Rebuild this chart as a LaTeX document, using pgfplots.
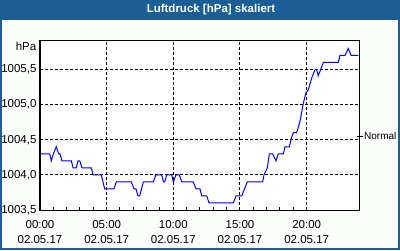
\documentclass[border=0pt]{standalone}
\usepackage{fontspec}
\setmainfont{Liberation Sans}
\usepackage{pgfplots}
\pgfplotsset{compat=1.18}
\definecolor{titleblue}{RGB}{27,94,150}
\definecolor{bgc}{RGB}{250,253,250}
\definecolor{lineblue}{RGB}{0,0,255}
\begin{document}
\begin{tikzpicture}
\useasboundingbox (0pt,0pt) rectangle (400pt,250pt);
\fill[bgc] (0pt,0pt) rectangle (400pt,250pt);
\fill[titleblue] (0pt,230pt) rectangle (400pt,250pt);
\draw[titleblue, line width=2pt] (1pt,1pt) rectangle (399pt,249pt);
\node[white, font=\fontsize{11.5}{13}\selectfont\bfseries] at (211pt,240pt) {Luftdruck [hPa] skaliert};
\node[anchor=east, inner sep=0pt, font=\fontsize{11.5}{13}\selectfont] at (36.5pt,203.3pt) {hPa};
\begin{axis}[at={(40pt,40pt)}, anchor=south west, scale only axis,
  width=320pt, height=170pt,
  xmin=0, xmax=24, ymin=1003.5, ymax=1005.92,
  axis background/.style={fill=white},
  xtick={0,5,10,15,20},
  xticklabels={00:00\\02.05.17, 05:00\\02.05.17, 10:00\\02.05.17, 15:00\\02.05.17, 20:00\\02.05.17},
  minor x tick num=4,
  ytick={1003.5,1004,1004.5,1005,1005.5},
  grid=major,
  major grid style={black, dash pattern=on 3pt off 2pt, line width=1pt},
  axis line style={black, line width=1pt},
  tick style={black, line width=1pt},
  major tick length=0pt, minor tick length=3pt, tick align=inside,
  xtick pos=bottom, ytick pos=left,
  /pgf/number format/assume math mode=true,
  ticklabel style={font=\fontsize{11.5}{15}\selectfont},
  x tick label style={align=center, yshift=-7pt},
  y tick label style={/pgf/number format/.cd, fixed, fixed zerofill, precision=1, use comma, 1000 sep={}},
  clip=false,
]
\addplot[lineblue, line width=1pt, mark=none] coordinates {
(0.0,1004.3) (0.73,1004.3) (0.85,1004.2) (1.0,1004.3) (1.22,1004.4) (1.4,1004.3) (1.5,1004.3)
(1.65,1004.2) (2.35,1004.2) (2.48,1004.1) (2.72,1004.1) (2.85,1004.2) (2.98,1004.2) (3.15,1004.1)
(3.85,1004.1) (3.98,1004.0) (4.6,1004.0) (4.85,1003.8) (5.55,1003.8) (5.72,1003.9) (6.85,1003.9)
(7.05,1003.8) (7.2,1003.8) (7.35,1003.7) (7.48,1003.7) (7.75,1003.9) (8.5,1003.9) (8.7,1004.0)
(9.13,1004.0) (9.26,1003.9) (9.35,1003.9) (9.5,1004.0) (9.88,1004.0) (10.0,1003.9) (10.2,1004.0)
(10.45,1004.0) (10.63,1003.9) (11.5,1003.9) (11.7,1003.8) (12.0,1003.8) (12.13,1003.7) (12.5,1003.7)
(12.68,1003.6) (14.5,1003.6) (14.7,1003.7) (15.13,1003.7) (15.55,1003.9) (16.7,1003.9) (16.8,1004.0)
(17.05,1004.1) (17.2,1004.3) (17.45,1004.3) (17.7,1004.2) (17.87,1004.3) (18.25,1004.3) (18.38,1004.4)
(18.7,1004.4) (18.9,1004.55) (19.0,1004.6) (19.25,1004.6) (19.5,1004.76) (19.75,1005.02) (19.95,1005.17)
(20.12,1005.21) (20.38,1005.38) (20.63,1005.5) (20.75,1005.5) (20.87,1005.41) (21.05,1005.5) (21.25,1005.6)
(22.37,1005.6) (22.5,1005.7) (22.88,1005.7) (23.12,1005.8) (23.33,1005.7) (23.87,1005.7)
};
\draw[black, line width=1pt] ([xshift=-3pt]rel axis cs:1,0.4339) -- ([xshift=3pt]rel axis cs:1,0.4339);
\node[anchor=west, inner sep=0pt, font=\fontsize{10}{12}\selectfont] at ([xshift=4pt]rel axis cs:1,0.4339) {Normal};
\end{axis}
\end{tikzpicture}
\end{document}
